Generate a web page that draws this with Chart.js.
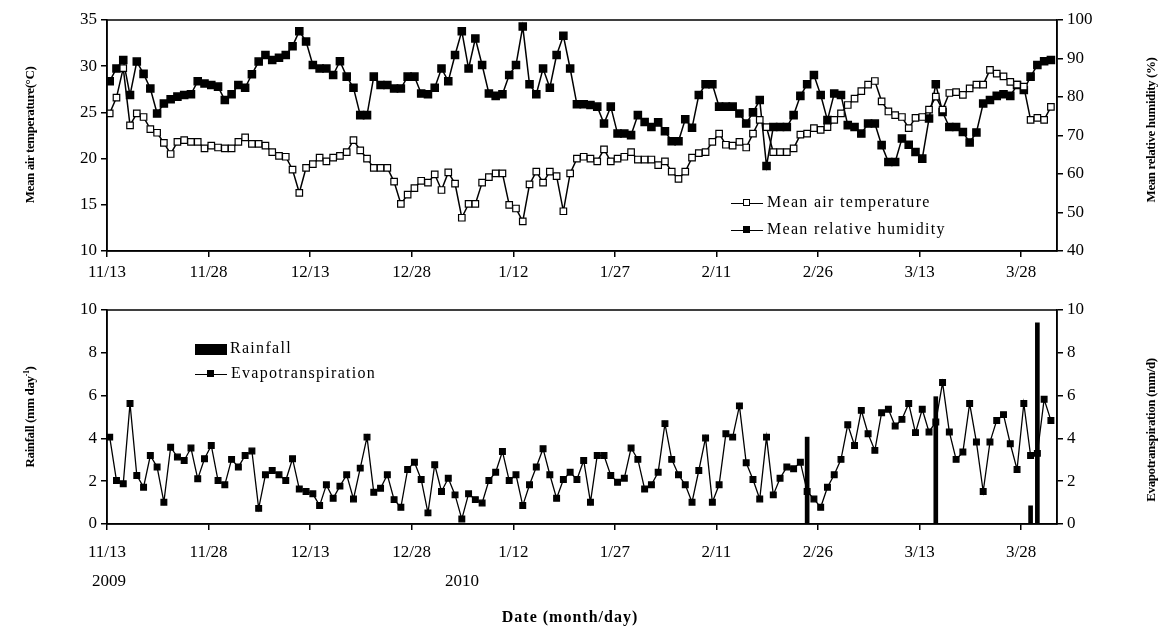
<!DOCTYPE html>
<html>
<head>
<meta charset="utf-8">
<script src="https://cdn.jsdelivr.net/npm/chart.js@4.4.0/dist/chart.umd.min.js"></script>
<style>
  html, body { margin: 0; padding: 0; background: #fff; }
  #wrap { position: relative; width: 1159px; height: 626px; overflow: hidden;
          font-family: "Liberation Serif", "Times New Roman", serif; color: #000; }
  canvas { position: absolute; left: 0; }
  .vt { position: absolute; white-space: nowrap; font-weight: bold; font-size: 13px;
        letter-spacing: -0.4px; transform: translate(-50%, -50%) rotate(-90deg); }
  .txt { position: absolute; white-space: nowrap; font-size: 17px; transform: translate(-50%, -50%); }
  .leg { position: absolute; white-space: nowrap; font-size: 16px; letter-spacing: 1.3px; line-height: 18px; }
  .lline { display: inline-block; position: relative; width: 32px; height: 0; border-top: 1.5px solid #000;
           vertical-align: middle; margin-right: 4px; }
  .mk { position: absolute; left: 12px; top: -4.5px; width: 5px; height: 5px; border: 1px solid #000; background: #fff; }
  .mk.fill { background: #000; }
  .lbox { display: inline-block; width: 32px; height: 11px; background: #000; vertical-align: middle; margin-right: 3px; }
</style>
</head>
<body>
<div id="wrap">
  <canvas id="topChart" width="1159" height="290" style="top:0"></canvas>
  <canvas id="bottomChart" width="1159" height="336" style="top:290px"></canvas>

  <div class="vt" style="left:30px; top:135px;">Mean air temperature(°C)</div>
  <div class="vt" style="left:1151px; top:130px;">Mean relative humidity (%)</div>
  <div class="vt" style="left:30px; top:417px;">Rainfall (mm day<sup style="font-size:8px">-1</sup>)</div>
  <div class="vt" style="left:1151px; top:430px;">Evapotranspiration (mm/d)</div>

  <div class="leg" style="left:731px; top:193px;"><span class="lline"><span class="mk"></span></span>Mean air temperature</div>
  <div class="leg" style="left:731px; top:220px;"><span class="lline"><span class="mk fill"></span></span>Mean relative humidity</div>
  <div class="leg" style="left:195px; top:339px;"><span class="lbox"></span>Rainfall</div>
  <div class="leg" style="left:195px; top:364px;"><span class="lline"><span class="mk fill"></span></span>Evapotranspiration</div>

  <div class="txt" style="left:109px; top:581px;">2009</div>
  <div class="txt" style="left:462px; top:581px;">2010</div>
  <div class="txt" style="left:570px; top:617px; font-weight:bold; font-size:16px; letter-spacing:1px;">Date (month/day)</div>
</div>

<script>
// x axis: days since 11/13/2009
const tickDays = [0, 15, 30, 45, 60, 75, 90, 105, 120, 135];
const tickLabels = ['11/13', '11/28', '12/13', '12/28', '1/12', '1/27', '2/11', '2/26', '3/13', '3/28'];
const dayOffset = 0.4;

// daily mean air temperature (°C), 11/13 .. 4/1
const airTemp = [
  24.9, 26.6, 29.8, 23.6, 24.9, 24.5, 23.2, 22.8, 21.7, 20.5,
  21.8, 22.0, 21.8, 21.8, 21.1, 21.4, 21.2, 21.1, 21.1, 21.8,
  22.3, 21.6, 21.6, 21.4, 20.7, 20.3, 20.2, 18.8, 16.3, 19.0,
  19.4, 20.1, 19.7, 20.1, 20.3, 20.7, 22.0, 20.9, 20.0, 19.0,
  19.0, 19.0, 17.5, 15.1, 16.1, 16.8, 17.6, 17.4, 18.3, 16.6,
  18.5, 17.3, 13.6, 15.1, 15.1, 17.4, 18.0, 18.4, 18.4, 15.0,
  14.6, 13.2, 17.2, 18.6, 17.4, 18.6, 18.1, 14.3, 18.4, 20.0,
  20.2, 20.0, 19.7, 21.0, 19.7, 20.0, 20.2, 20.7, 19.9, 19.9,
  19.9, 19.3, 19.7, 18.6, 17.8, 18.6, 20.1, 20.6, 20.7, 21.8,
  22.7, 21.5, 21.4, 21.8, 21.2, 22.7, 24.2, 23.4, 20.7, 20.7,
  20.7, 21.1, 22.6, 22.7, 23.3, 23.1, 23.4, 24.2, 24.9, 25.8,
  26.5, 27.3, 28.0, 28.4, 26.2, 25.1, 24.7, 24.5, 23.3, 24.4,
  24.5, 25.3, 26.7, 25.3, 27.1, 27.2, 26.9, 27.6, 28.0, 28.0,
  29.6, 29.2, 28.9, 28.3, 28.0, 27.8, 24.2, 24.4, 24.2, 25.6
];

// daily mean relative humidity (%)
const relHumidity = [
  84.1, 87.4, 89.6, 80.5, 89.2, 86.0, 82.2, 75.7, 78.3, 79.4,
  80.1, 80.5, 80.7, 84.1, 83.5, 83.1, 82.7, 79.2, 80.7, 83.1,
  82.4, 85.9, 89.2, 90.9, 89.6, 90.2, 90.9, 93.2, 97.1, 94.4,
  88.3, 87.4, 87.4, 85.7, 89.3, 85.3, 82.4, 75.3, 75.3, 85.3,
  83.1, 83.1, 82.2, 82.2, 85.3, 85.3, 80.9, 80.7, 82.4, 87.4,
  84.1, 90.9, 97.1, 87.4, 95.2, 88.3, 80.9, 80.3, 80.7, 85.7,
  88.3, 98.3, 83.3, 80.7, 87.4, 82.4, 90.9, 95.9, 87.4, 78.1,
  78.1, 77.9, 77.5, 73.1, 77.5, 70.5, 70.5, 70.1, 75.3, 73.5,
  72.2, 73.4, 71.1, 68.5, 68.5, 74.2, 72.0, 80.5, 83.3, 83.3,
  77.5, 77.5, 77.5, 75.7, 73.1, 76.0, 79.2, 62.1, 72.2, 72.2,
  72.2, 75.3, 80.3, 83.3, 85.7, 80.5, 74.0, 80.9, 80.5, 72.7,
  72.2, 70.5, 73.1, 73.1, 67.5, 63.1, 63.1, 69.2, 67.6, 65.7,
  64.0, 74.4, 83.3, 76.1, 72.2, 72.2, 70.9, 68.2, 70.8, 78.3,
  79.2, 80.3, 80.7, 80.3, 83.1, 81.8, 85.3, 88.3, 89.3, 89.6
];

// daily evapotranspiration (mm/d)
const evapo = [
  4.06, 2.03, 1.88, 5.63, 2.27, 1.72, 3.20, 2.66, 1.02, 3.59,
  3.13, 2.97, 3.55, 2.11, 3.05, 3.67, 2.03, 1.83, 3.02, 2.66,
  3.20, 3.41, 0.73, 2.30, 2.50, 2.30, 2.03, 3.05, 1.64, 1.52,
  1.41, 0.86, 1.83, 1.20, 1.77, 2.30, 1.17, 2.61, 4.06, 1.48,
  1.67, 2.30, 1.14, 0.78, 2.55, 2.89, 2.08, 0.52, 2.77, 1.52,
  2.14, 1.36, 0.23, 1.41, 1.14, 0.98, 2.03, 2.42, 3.39, 2.03,
  2.30, 0.86, 1.83, 2.66, 3.52, 2.30, 1.20, 2.08, 2.42, 2.08,
  2.97, 1.02, 3.20, 3.20, 2.27, 1.95, 2.14, 3.55, 3.02, 1.64,
  1.83, 2.42, 4.69, 3.02, 2.30, 1.83, 1.02, 2.50, 4.02, 1.02,
  1.83, 4.22, 4.06, 5.52, 2.86, 2.08, 1.17, 4.06, 1.36, 2.14,
  2.66, 2.58, 2.89, 1.52, 1.17, 0.78, 1.72, 2.30, 3.02, 4.64,
  3.67, 5.31, 4.22, 3.44, 5.20, 5.36, 4.58, 4.89, 5.63, 4.27,
  5.36, 4.30, 4.77, 6.61, 4.30, 3.02, 3.36, 5.63, 3.83, 1.52,
  3.83, 4.84, 5.11, 3.75, 2.55, 5.63, 3.20, 3.30, 5.83, 4.84
];

// rainfall events (day index, mm/day)
const rainDays = [103, 122, 136, 137];
const rainfall = [4.06, 5.95, 0.85, 9.4];

Chart.defaults.font.family = "'Liberation Serif', 'Times New Roman', serif";
Chart.defaults.font.size = 17;
Chart.defaults.color = '#000';

const toPoints = arr => arr.map((v, i) => ({ x: i + dayOffset, y: v }));

const frame = {
  id: 'frame',
  afterDraw(chart) {
    const { ctx, chartArea: a } = chart;
    ctx.save();
    ctx.strokeStyle = '#000';
    ctx.lineWidth = 1.5;
    ctx.strokeRect(a.left, a.top, a.right - a.left, a.bottom - a.top);
    ctx.restore();
  }
};

function xAxis(height, pad) {
  return {
    type: 'linear',
    min: 0,
    max: 140.3,
    offset: false,
    afterBuildTicks: s => { s.ticks = tickDays.map(v => ({ value: v })); },
    afterFit: s => { s.height = height; },
    ticks: {
      autoSkip: false, maxRotation: 0, padding: pad,
      callback: v => tickLabels[tickDays.indexOf(v)] || ''
    },
    grid: { offset: false, drawOnChartArea: false, tickLength: 6, color: '#000', lineWidth: 1.5 },
    border: { color: '#000', width: 1.5 }
  };
}

function yAxis(pos, min, max, step, width) {
  return {
    position: pos,
    min: min,
    max: max,
    afterFit: s => { s.width = width; },
    ticks: { stepSize: step, padding: 4 },
    grid: { drawOnChartArea: false, tickLength: 6, color: '#000', lineWidth: 1.5 },
    border: { color: '#000', width: 1.5 }
  };
}

new Chart(document.getElementById('topChart'), {
  type: 'line',
  data: {
    datasets: [{
      label: 'Mean air temperature',
      data: toPoints(airTemp),
      yAxisID: 'yT',
      borderColor: '#000',
      borderWidth: 1.5,
      pointStyle: 'rect',
      pointRadius: 4.6,
      pointBorderWidth: 1.2,
      pointBackgroundColor: '#fff',
      pointBorderColor: '#000'
    }, {
      label: 'Mean relative humidity',
      data: toPoints(relHumidity),
      yAxisID: 'yH',
      borderColor: '#000',
      borderWidth: 1.5,
      pointStyle: 'rect',
      pointRadius: 5,
      pointBackgroundColor: '#000',
      pointBorderColor: '#000'
    }]
  },
  options: {
    responsive: false,
    animation: false,
    layout: { padding: { top: 20, left: 0, right: 0, bottom: 0 } },
    plugins: { legend: { display: false }, tooltip: { enabled: false } },
    scales: {
      x: xAxis(39, 5),
      yT: yAxis('left', 10, 35, 5, 107),
      yH: yAxis('right', 40, 100, 10, 102)
    }
  },
  plugins: [frame]
});

new Chart(document.getElementById('bottomChart'), {
  data: {
    datasets: [{
      type: 'line',
      label: 'Evapotranspiration',
      data: toPoints(evapo),
      yAxisID: 'yE',
      borderColor: '#000',
      borderWidth: 1.3,
      pointStyle: 'rect',
      pointRadius: 4,
      pointBackgroundColor: '#000',
      pointBorderColor: '#000'
    }, {
      type: 'bar',
      label: 'Rainfall',
      data: rainDays.map((d, i) => ({ x: d + dayOffset, y: rainfall[i] })),
      yAxisID: 'yR',
      backgroundColor: '#000',
      barThickness: 4
    }]
  },
  options: {
    responsive: false,
    animation: false,
    layout: { padding: { top: 20, left: 0, right: 0, bottom: 0 } },
    plugins: { legend: { display: false }, tooltip: { enabled: false } },
    scales: {
      x: xAxis(102, 12),
      yR: yAxis('left', 0, 10, 2, 107),
      yE: yAxis('right', 0, 10, 2, 102)
    }
  },
  plugins: [frame]
});
</script>
</body>
</html>
